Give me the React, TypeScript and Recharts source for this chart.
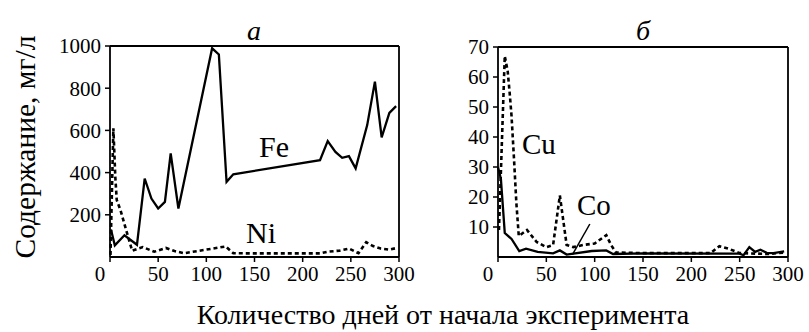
import { LineChart, Line, XAxis, YAxis, ReferenceLine } from "recharts";

const FONT = '"Liberation Serif", "Times New Roman", serif';

const fePoints = [
  [1, 130], [5, 55], [15, 103], [28, 58], [36, 372], [43, 277], [50, 230],
  [57, 261], [63, 491], [71, 230], [106, 989], [113, 960], [121, 356],
  [128, 392], [218, 459], [226, 549], [234, 498], [241, 470], [248, 478],
  [255, 420], [267, 625], [275, 831], [282, 567], [290, 683], [297, 715],
];
const niPoints = [
  [0.5, 10], [3.5, 610], [5.5, 380], [7, 270], [11, 220], [16, 140], [23, 30],
  [34, 47], [46, 25], [58, 43], [67, 28], [77, 18], [100, 35], [120, 50],
  [128, 18], [150, 17], [200, 17], [218, 17], [226, 25], [238, 30], [248, 40],
  [258, 18], [266, 70], [273, 52], [281, 40], [290, 35], [297, 42],
];

// panel б
const cuPoints = [
  [1, 9], [7, 67], [10, 62], [12, 55], [14, 47], [16.5, 33], [19, 18],
  [21.5, 7], [30, 9], [40, 5], [50, 3.3], [57, 4], [64, 20.5], [71, 4],
  [78, 3.3], [88, 4], [100, 4.5], [112, 7.3], [117, 4], [122, 1.5],
  [150, 1.3], [220, 1.3], [229, 3.6], [239, 2.7], [250, 1.3], [260, 1.2],
  [280, 1.0], [296, 1.5],
];
const coPoints = [
  [0, 30], [3, 26], [7, 8], [14, 6], [22, 2], [29, 2.8], [41, 1.7], [57, 1.2],
  [64, 2.2], [71, 0.8], [97, 2], [112, 2.2], [119, 1], [150, 1.2], [250, 1.1],
  [254, 0.6], [260, 3.3], [266, 1.7], [271.5, 2.4], [278, 1.4], [285, 1.3],
  [296, 1.9],
];

const dayTicks = [0, 50, 100, 150, 200, 250, 300];
const feTicks = [200, 400, 600, 800, 1000];
const cuTicks = [10, 20, 30, 40, 50, 60, 70];

const toRows = (pts: number[][]) => pts.map(([day, value]) => ({ day, value }));

const DayTick = (props: any) => {
  const { x, y, payload } = props;
  const shift = payload.value === 0 ? -10 : 0;
  return (
    <text x={x + shift} y={y + 17} textAnchor="middle" fontFamily={FONT} fontSize={21} fill="#000">
      {payload.value}
    </text>
  );
};

const axisProps = {
  stroke: "#000",
  strokeWidth: 1.8,
  tickLine: { stroke: "#000", strokeWidth: 1.5 },
  tick: { fill: "#000", fontFamily: FONT, fontSize: 21 },
  tickSize: 5,
};

const solid = { stroke: "#000", strokeWidth: 2.3, dot: false, isAnimationActive: false, type: "linear" as const };
const dotted = { ...solid, strokeWidth: 2.6, strokeDasharray: "4 3" };

function Panel({
  width, yWidth, yMax, yTicks, top, lines, extra,
}: {
  width: number; yWidth: number; yMax: number; yTicks: number[]; top: number;
  lines: { rows: { day: number; value: number }[]; style: any }[];
  extra?: React.ReactNode;
}) {
  return (
    <LineChart width={width} height={300} margin={{ top, right: 21, bottom: 10, left: 0 }} style={{ fontFamily: FONT }}>
      <XAxis
        type="number"
        dataKey="day"
        domain={[0, 300]}
        ticks={dayTicks}
        interval={0}
        height={33}
        {...axisProps}
        tick={<DayTick />}
        allowDuplicatedCategory={false}
      />
      <YAxis
        type="number"
        domain={[0, yMax]}
        ticks={yTicks}
        interval={0}
        width={yWidth}
        tickMargin={4}
        {...axisProps}
      />
      <ReferenceLine y={yMax} stroke="#000" strokeWidth={1.8} />
      <ReferenceLine x={300} stroke="#000" strokeWidth={1.8} />
      {lines.map((l, i) => (
        <Line key={i} data={l.rows} dataKey="value" {...l.style} />
      ))}
      {extra}
    </LineChart>
  );
}

export default function App() {
  return (
    <div
      style={{
        position: "absolute", left: 0, top: 0, width: 809, height: 332,
        background: "#fff", fontFamily: FONT, overflow: "hidden",
      }}
    >
      <div style={{ position: "absolute", left: 0, top: 0 }}>
        <Panel
          width={420}
          yWidth={110}
          yMax={1000}
          yTicks={feTicks}
          top={46}
          lines={[
            { rows: toRows(niPoints), style: dotted },
            { rows: toRows(fePoints), style: solid },
          ]}
        />
      </div>
      <div style={{ position: "absolute", left: 400, top: 0 }}>
        <Panel
          width={409}
          yWidth={98}
          yMax={70}
          yTicks={cuTicks}
          top={47}
          lines={[
            { rows: toRows(cuPoints), style: dotted },
            { rows: toRows(coPoints), style: solid },
          ]}
          extra={
            <ReferenceLine
              segment={[{ x: 77, y: 0.8 }, { x: 95, y: 11 }]}
              stroke="#000"
              strokeWidth={1.5}
            />
          }
        />
      </div>
      <svg
        width={809}
        height={332}
        style={{ position: "absolute", left: 0, top: 0, pointerEvents: "none", fontFamily: FONT }}
        fill="#000"
      >
        <text x={254} y={40} fontSize={28} fontStyle="italic" textAnchor="middle">а</text>
        <text x={643} y={40} fontSize={28} fontStyle="italic" textAnchor="middle">б</text>
        <text x={259} y={157} fontSize={30}>Fe</text>
        <text x={246} y={243} fontSize={30}>Ni</text>
        <text x={522} y={154} fontSize={29}>Cu</text>
        <text x={577} y={215} fontSize={29}>Co</text>
        <text transform="rotate(-90)" x={-147} y={35} fontSize={29.5} textAnchor="middle">
          Содержание, мг/л
        </text>
        <text x={443} y={324} fontSize={28} textAnchor="middle">
          Количество дней от начала эксперимента
        </text>
      </svg>
    </div>
  );
}
